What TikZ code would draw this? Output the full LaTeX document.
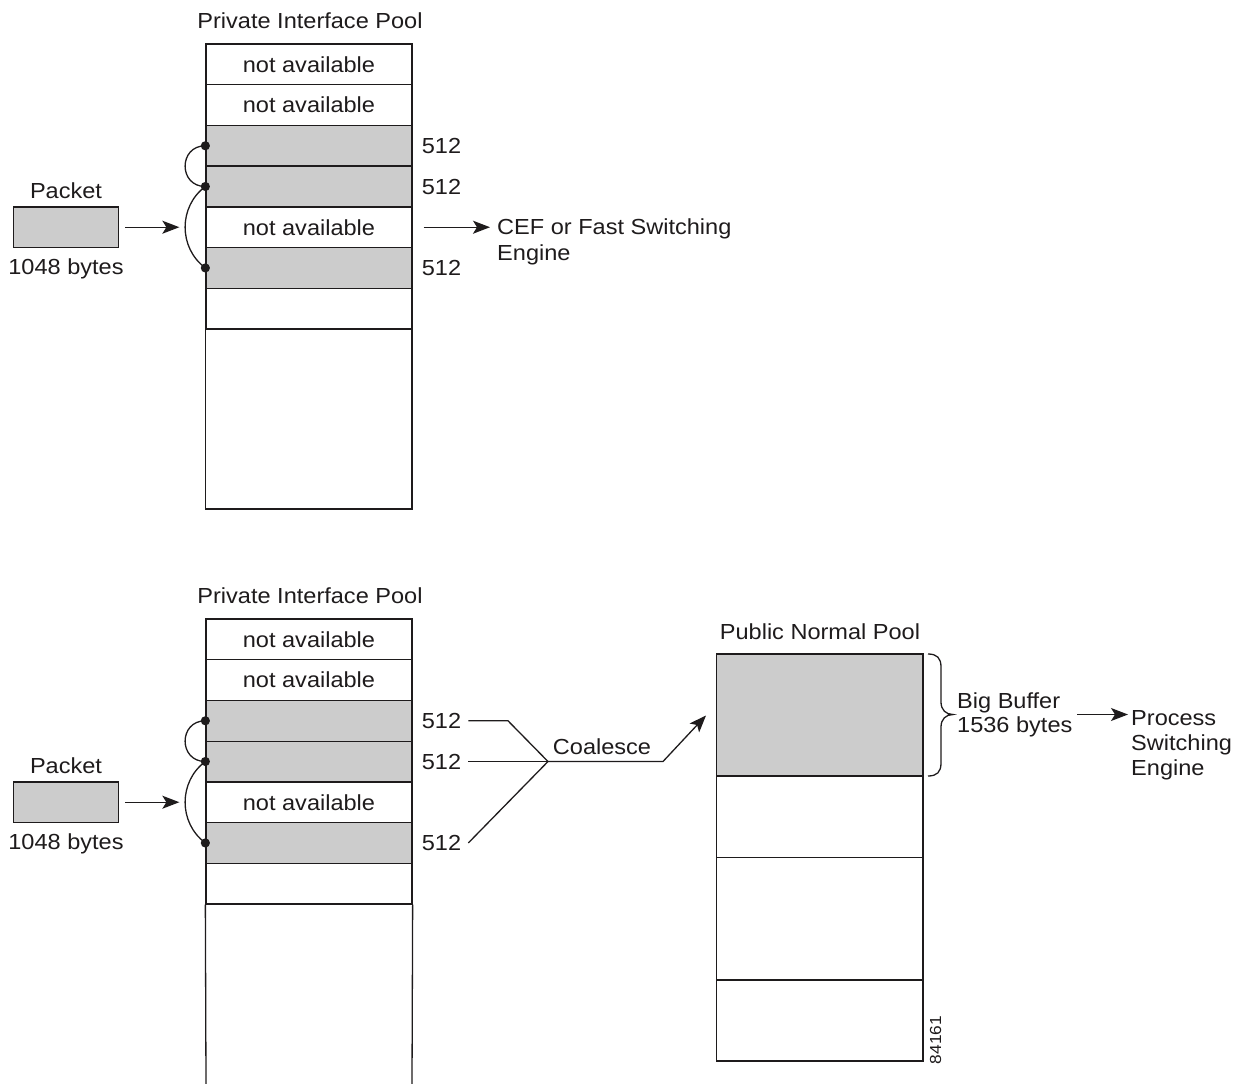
\documentclass[tikz,border=0pt]{standalone}
\usepackage{fontspec}
\setmainfont[FakeStretch=1.08]{Liberation Sans}
\usetikzlibrary{arrows.meta}
\definecolor{cellgray}{RGB}{204,204,204}
\definecolor{ink}{RGB}{30,27,28}
\begin{document}
\begin{tikzpicture}[x=1pt,y=-1pt,
  font=\fontsize{21.8}{25}\selectfont,
  line/.style={draw=ink, line width=1.3pt},
  cell/.style={draw=ink, line width=1.3pt, minimum width=206pt, minimum height=40.714pt, inner sep=0pt, text=ink},
  full/.style={cell, fill=cellgray},
  lbl/.style={inner sep=0pt, anchor=base, text=ink},
  lblw/.style={inner sep=0pt, anchor=base west, text=ink},
  arr/.style={draw=ink, line width=1.3pt, -{Stealth[length=17pt,width=13pt,inset=4pt]}},
  line join=miter]
\useasboundingbox (0,0) rectangle (1237,1084);

\foreach \p/\o in {t/0,b/575}{
  \node[lbl] (ti\p) at (310,28+\o) {Private Interface Pool};
  \node[cell] (\p1) at (309,64.357+\o) {not available};
  \node[cell] (\p2) at (309,105.071+\o) {not available};
  \node[full] (\p3) at (309,145.786+\o) {};
  \node[full] (\p4) at (309,186.5+\o) {};
  \node[cell] (\p5) at (309,227.214+\o) {not available};
  \node[full] (\p6) at (309,267.929+\o) {};
  \node[cell] (\p7) at (309,308.643+\o) {};
  % 512 labels
  \node[inner sep=0pt, anchor=west, text=ink] (n3\p) at ([xshift=9pt]\p3.east) {512};
  \node[inner sep=0pt, anchor=west, text=ink] (n4\p) at ([xshift=9pt]\p4.east) {512};
  \node[inner sep=0pt, anchor=west, text=ink] (n6\p) at ([xshift=9pt]\p6.east) {512};
  % packet
  \node[draw=ink, line width=1.3pt, fill=cellgray, minimum width=105pt, minimum height=40.7pt, inner sep=0pt] (pk\p) at (66,227.214+\o) {};
  \node[lbl] (pl\p) at (66,198+\o) {Packet};
  \node[lbl] (by\p) at (66,274+\o) {1048 bytes};
  \coordinate (ae\p) at ([xshift=-26pt]\p5.west);
  \draw[arr] ([xshift=6pt]pk\p.east) -- (ae\p);
  % chain curves
  \draw[line] (\p3.west) .. controls ([xshift=-27pt]\p3.west) and ([xshift=-27pt]\p4.west) .. (\p4.west);
  \draw[line] (\p4.west) .. controls ([shift={(-27,20)}]\p4.west) and ([shift={(-27,-20)}]\p6.west) .. (\p6.west);
  \fill[ink] (\p3.west) circle (4.6pt);
  \fill[ink] (\p4.west) circle (4.6pt);
  \fill[ink] (\p6.west) circle (4.6pt);
}
% lower part of pools
\draw[line] (t7.south west) rectangle (412,509);
\draw[line] (b7.south west) -- (206,1084);
\draw[line] (b7.south east) -- (412,1084);

% top: CEF
\coordinate (cefa) at (490,227.214);
\draw[arr] ([xshift=11pt]t5.east) -- (cefa);
\node[lblw] (cef1) at (497,234.3) {CEF or Fast Switching};
\node[lblw] (cef2) at (497,260.7) {Engine};

% bottom: coalesce
\coordinate (j) at (548,761.5);
\coordinate (k1) at (508,720.8);
\coordinate (k2) at (663,761.5);
\coordinate (k3) at (706,715.5);
\draw[line] ([xshift=7pt]n3b.east) -- (k1) -- (j);
\draw[line] ([xshift=7pt]n4b.east) -- (j);
\draw[line] ([xshift=7pt]n6b.east) -- (j);
\draw[arr] (j) -- (k2) -- (k3);
\node[lbl] (coal) at (602,754) {Coalesce};

% public normal pool
\node[lbl] (pubt) at (820,639.5) {Public Normal Pool};
\node[draw=ink, line width=1.3pt, fill=cellgray, minimum width=206.5pt, minimum height=122pt, inner sep=0pt] (p1) at (819.75,715) {};
\node[draw=ink, line width=1.3pt, minimum width=206.5pt, minimum height=81.5pt, inner sep=0pt] (p2) at (819.75,816.75) {};
\node[draw=ink, line width=1.3pt, minimum width=206.5pt, minimum height=122.5pt, inner sep=0pt] (p3) at (819.75,918.75) {};
\node[draw=ink, line width=1.3pt, minimum width=206.5pt, minimum height=81pt, inner sep=0pt] (p4) at (819.75,1020.5) {};

% brace
\draw[line] (928,654) .. controls (937,654) and (941,658) .. (941,667) -- (941,702)
  .. controls (941,710) and (946,714.5) .. (953,714.5)
  .. controls (946,714.5) and (941,719) .. (941,727) -- (941,763)
  .. controls (941,772) and (937,776) .. (928,776);

\node[lblw] (bb1) at (957,708.3) {Big Buffer};
\node[lblw] (bb2) at (957,732.7) {1536 bytes};
\coordinate (pb) at (1077,714.5);
\coordinate (pa) at (1128,714.5);
\draw[arr] (pb) -- (pa);
\node[lblw] (ps1) at (1131,725) {Process};
\node[lblw] (ps2) at (1131,750) {Switching};
\node[lblw] (ps3) at (1131,775.5) {Engine};

\node[rotate=90, inner sep=0pt, text=ink, font=\fontsize{16}{16}\selectfont] (fig) at (935.5,1040) {84161};
\end{tikzpicture}
\end{document}
